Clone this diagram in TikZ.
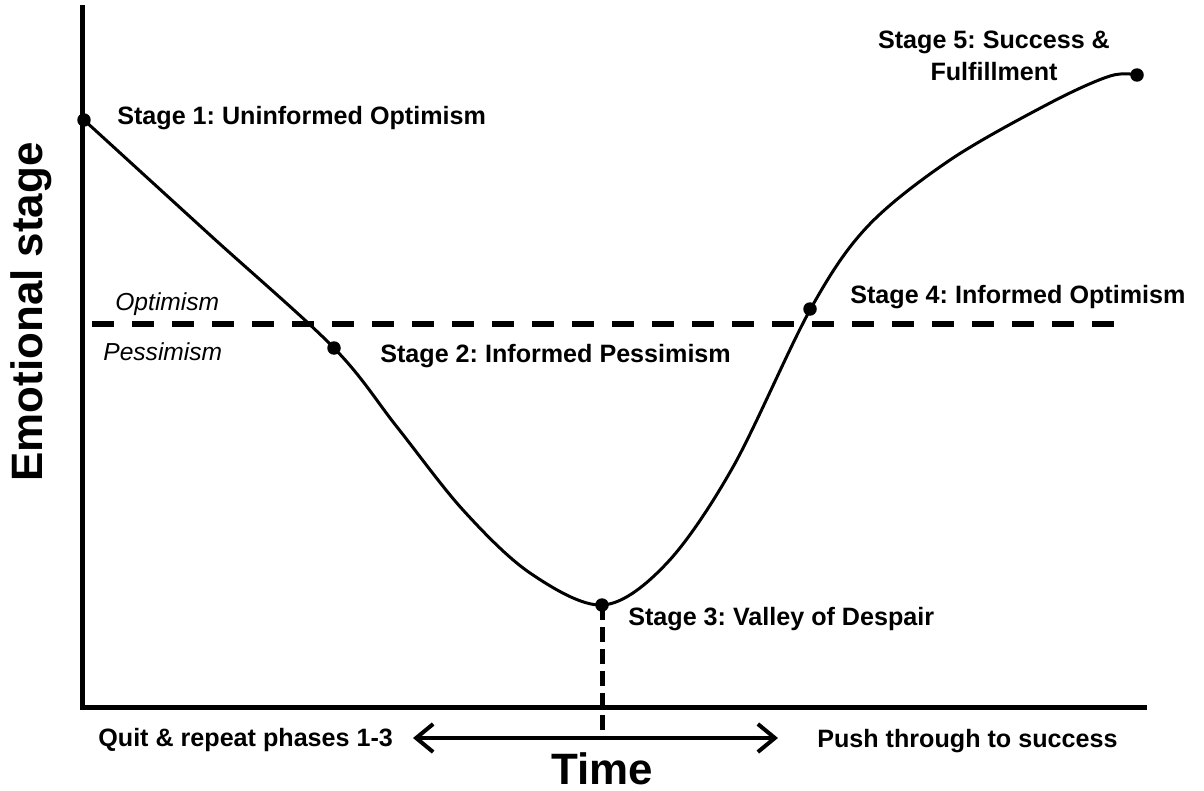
\documentclass[tikz,border=0pt]{standalone}
\usepackage{fontspec}
\setmainfont{Liberation Sans}
\usetikzlibrary{arrows.meta}
\frenchspacing
\begin{document}
\begin{tikzpicture}[x=0.02cm,y=-0.02cm,
  lbl/.style={font=\fontsize{14.3}{18}\selectfont\bfseries, inner sep=0pt, anchor=base west},
  ilbl/.style={font=\fontsize{14}{17}\selectfont\itshape, inner sep=0pt, anchor=base west},
  big/.style={font=\fontsize{25}{30}\selectfont\bfseries, inner sep=0pt},
  dot/.style={circle, fill=black, inner sep=0pt, minimum size=0.27cm},
  axis/.style={line width=0.1cm, line join=miter},
  curve/.style={line width=0.06cm},
  ref/.style={line width=0.11cm, dash pattern=on 0.44cm off 0.36cm},
  drop/.style={line width=0.1cm, dash pattern=on 0.3cm off 0.14cm},
  timearrow/.style={line width=0.08cm, {Straight Barb[length=0.34cm,width=0.56cm]}-{Straight Barb[length=0.34cm,width=0.56cm]}}]
\useasboundingbox (0,0) rectangle (1204,791);
% axes
\coordinate (top) at (82,5);
\coordinate (origin) at (82,707);
\coordinate (xend) at (1147,707);
\draw[axis] (top) -- (origin) -- (xend);
% optimism / pessimism line
\coordinate (dl) at (92,324);
\coordinate (dr) at (1118,324);
\draw[ref] (dl) -- (dr);
% curve
\draw[curve] plot[smooth, tension=0.55] coordinates {(84,120) (210,235) (334,348) (397,427) (463,510) (530,573) (603,605) (667,563) (733,467) (810,310) (867,227) (950,160) (1050,103) (1110,76) (1137,75)};
% stage dots
\node[dot] (s1) at (84,120) {};
\node[dot] (s2) at (334,348) {};
\node[dot] (s3) at (602,605) {};
\node[dot] (s4) at (810,309) {};
\node[dot] (s5) at (1137,75) {};
% drop line and time arrow
\coordinate (tick) at (602,738);
\draw[drop] (s3.center) -- (tick);
\coordinate (aL) at (413,738);
\coordinate (aR) at (778,738);
\draw[timearrow] (aL) -- (aR);
% labels
\node[lbl] (l1) at (117,124) {Stage 1: Uninformed Optimism};
\node[lbl] (l2) at (380,362) {Stage 2: Informed Pessimism};
\node[lbl] (l3) at (628,625) {Stage 3: Valley of Despair};
\node[lbl] (l4) at (850,303) {Stage 4: Informed Optimism};
\node[lbl, anchor=north, align=center, font=\fontsize{14.3}{18.2}\selectfont\bfseries] (l5) at (994,31) {Stage 5: Success \&\\Fulfillment};
\node[ilbl] (opt) at (115,310) {Optimism};
\node[ilbl] (pes) at (103,360) {Pessimism};
\node[lbl] (quit) at (98,746) {Quit \& repeat phases 1-3};
\node[lbl] (push) at (817,747) {Push through to success};
\node[big, anchor=base] (time) at (602,784) {Time};
\node[big, anchor=base, rotate=90] (ylab) at (42,312) {Emotional stage};
\end{tikzpicture}
\end{document}
